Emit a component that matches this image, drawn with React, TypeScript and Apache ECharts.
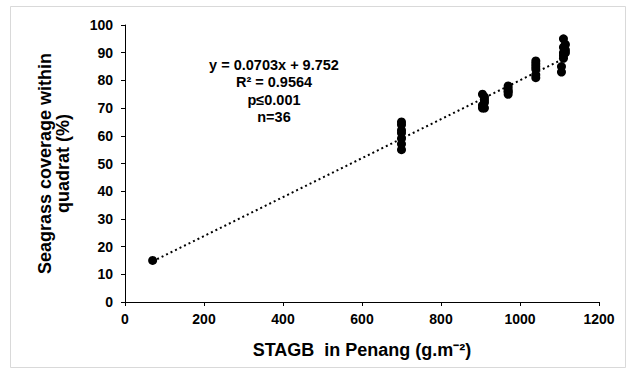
import React, { useEffect, useRef } from "react";
import * as echarts from "echarts";

const xTicks = [0, 200, 400, 600, 800, 1000, 1200];
const yTicks = [0, 10, 20, 30, 40, 50, 60, 70, 80, 90, 100];

const pointX = [
  70,
  700, 700, 700, 700, 700, 700, 700,
  905, 905, 910, 910, 910, 905, 910,
  970, 970, 970, 970, 970,
  1040, 1040, 1040, 1040, 1040, 1040,
  1105, 1105, 1110, 1110, 1110, 1115, 1110, 1115, 1110, 1115,
];
const pointY = [
  15,
  55, 57, 59, 61, 62, 64, 65,
  70, 71, 72, 73, 74, 75, 70,
  75, 76, 77, 78, 76,
  81, 82, 84, 85, 86, 87,
  83, 85, 88, 89, 90, 91, 92, 93, 95, 90,
];

const slope = 0.0703;
const intercept = 9.752;
const trendX = [70, 1115];

const equationLines = ["y = 0.0703x + 9.752", "R² = 0.9564", "p≤0.001", "n=36"];

export default function App() {
  const ref = useRef<HTMLDivElement>(null);
  useEffect(() => {
    if (!ref.current) return;
    const chart = echarts.init(ref.current, undefined, { renderer: "svg" });
    const font = "'Liberation Sans', Arial, sans-serif";
    chart.setOption({
      animation: false,
      backgroundColor: "#ffffff",
      grid: { left: 125, top: 25, width: 474, height: 277 },
      xAxis: {
        type: "value",
        min: xTicks[0],
        max: xTicks[xTicks.length - 1],
        interval: 200,
        name: "STAGB  in Penang (g.m⁻²)",
        nameLocation: "middle",
        nameGap: 39,
        nameTextStyle: { fontFamily: font, fontWeight: "bold", fontSize: 18, color: "#000" },
        axisLine: { lineStyle: { color: "#000", width: 1 } },
        axisTick: { show: true, length: 4, lineStyle: { color: "#000" } },
        axisLabel: {
          fontFamily: font,
          fontWeight: "bold",
          fontSize: 14,
          color: "#000",
          margin: 10,
          formatter: (v: number) => String(v),
        },
        splitLine: { show: false },
      },
      yAxis: {
        type: "value",
        min: yTicks[0],
        max: yTicks[yTicks.length - 1],
        interval: 10,
        name: "Seagrass coverage within\nquadrat (%)",
        nameLocation: "middle",
        nameGap: 53,
        nameRotate: 90,
        nameTextStyle: { fontFamily: font, fontWeight: "bold", fontSize: 18, color: "#000", lineHeight: 18 },
        axisLine: { show: true, lineStyle: { color: "#000", width: 1 } },
        axisTick: { show: true, length: 4, lineStyle: { color: "#000" } },
        axisLabel: {
          fontFamily: font,
          fontWeight: "bold",
          fontSize: 14,
          color: "#000",
          margin: 12,
          formatter: (v: number) => String(v),
        },
        splitLine: { show: false },
      },
      series: [
        {
          type: "line",
          data: trendX.map((x) => [x, slope * x + intercept]),
          symbol: "none",
          lineStyle: { color: "#000", width: 2, type: [2, 3] },
          silent: true,
          z: 1,
        },
        {
          type: "scatter",
          data: pointX.map((x, i) => [x, pointY[i]]),
          symbol: "circle",
          symbolSize: 9,
          itemStyle: { color: "#000", opacity: 1 },
          z: 2,
        },
      ],
      graphic: [
        {
          type: "rect",
          shape: { x: 10.5, y: 6.5, width: 615, height: 361 },
          style: { fill: "none", stroke: "#d9d9d9", lineWidth: 1 },
          silent: true,
        },
        {
          type: "text",
          x: 274,
          y: 56.5,
          style: {
            text: equationLines.join("\n"),
            fontFamily: font,
            fontWeight: "bold",
            fontSize: 14.5,
            lineHeight: 17.3,
            align: "center",
            fill: "#000",
          },
        },
      ],
    });
    return () => chart.dispose();
  }, []);
  return (
    <div
      ref={ref}
      style={{ position: "absolute", left: 0, top: 0, width: 634, height: 375 }}
    />
  );
}
